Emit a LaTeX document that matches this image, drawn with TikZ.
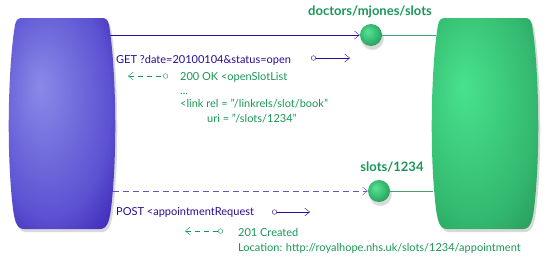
\documentclass[tikz,border=0pt]{standalone}
\usepackage{fontspec}
\setmainfont{Lato}
\usetikzlibrary{arrows.meta,shadows,positioning}

\definecolor{reqblue}{RGB}{40,12,145}
\definecolor{dashblue}{RGB}{100,80,200}
\definecolor{resgreen}{RGB}{24,150,86}
\definecolor{linkgreen}{RGB}{70,160,110}
\definecolor{clientlight}{RGB}{138,138,232}
\definecolor{clientmid}{RGB}{92,82,210}
\definecolor{clientdark}{RGB}{36,0,160}
\definecolor{serverlight}{RGB}{72,226,142}
\definecolor{servermid}{RGB}{52,186,112}
\definecolor{serverdark}{RGB}{30,132,76}
\definecolor{hublight}{RGB}{92,226,152}
\definecolor{hubmid}{RGB}{55,190,115}
\definecolor{hubdark}{RGB}{30,138,80}

\pgfdeclareradialshading{clientshade}{\pgfpoint{-10bp}{9bp}}{color(0bp)=(clientlight); color(27bp)=(clientmid); color(48bp)=(clientdark); color(60bp)=(clientdark)}
\pgfdeclareradialshading{servershade}{\pgfpoint{-10bp}{9bp}}{color(0bp)=(serverlight); color(27bp)=(servermid); color(48bp)=(serverdark); color(60bp)=(serverdark)}
\pgfdeclareradialshading{hubshade}{\pgfpoint{-8bp}{8bp}}{color(0bp)=(hublight); color(18bp)=(hubmid); color(36bp)=(hubdark); color(50bp)=(hubdark)}

% outline of client and server, centred on x=0
\newcommand{\barrel}{(-40,18) -- (40,18) .. controls (44,18) and (46,20) .. (47,25)
  .. controls (53,60) and (56,140) .. (50,200) .. controls (48,220) and (46,229) .. (38,229)
  -- (-38,229) .. controls (-46,229) and (-48,220) .. (-50,200)
  .. controls (-56,140) and (-53,60) .. (-47,25) .. controls (-46,20) and (-44,18) .. (-40,18) -- cycle}

\begin{document}
\begin{tikzpicture}[x=1pt,y=-1pt,
  request/.style={font=\fontsize{11}{13}\selectfont,text=reqblue,anchor=base west,inner sep=0pt},
  response/.style={font=\fontsize{11}{13}\selectfont,text=resgreen,anchor=base west,inner sep=0pt},
  resource/.style={font=\bfseries\fontsize{13}{15}\selectfont,text=resgreen,anchor=base,inner sep=0pt},
  hub/.style={circle,minimum size=22pt,inner sep=0pt,shading=hubshade,
    circular drop shadow={opacity=0.3,shadow xshift=1pt,shadow yshift=-3pt}},
  sendarrow/.style={reqblue,{Circle[open,length=5pt,width=5pt]}-{Straight Barb[length=5pt,width=8pt]}},
  replyarrow/.style={resgreen,dash pattern=on 5pt off 4pt,{Straight Barb[length=5pt,width=8pt]}-{Circle[open,length=5pt,width=5pt]}},
  ]

\useasboundingbox (0,0) rectangle (550,266);

% client and server
\shade[shift={(62,0)},shading=clientshade,drop shadow={opacity=0.3,shadow xshift=2pt,shadow yshift=-3pt}] \barrel;
\shade[shift={(485,0)},shading=servershade,drop shadow={opacity=0.3,shadow xshift=2pt,shadow yshift=-3pt}] \barrel;

% GET request
\coordinate (client get) at (110,35);
\coordinate (server get) at (436,35);
\node[hub] (slots) at (371,35) {};
\node[resource] (slots label) at (370,15) {doctors/mjones/slots};
\draw[reqblue,-{Straight Barb[length=5pt,width=8pt]}] (client get) -- (slots);
\draw[linkgreen] (slots) -- (server get);

\node[request] (get) at (116,63) {GET ?date=20100104\&status=open};
\coordinate (get out) at (311,58);
\coordinate (get end) at (350,58);
\draw[sendarrow] (get out) -- (get end);

\coordinate (ok end) at (128,76);
\coordinate (ok out) at (168,76);
\draw[replyarrow] (ok end) -- (ok out);
\node[response] (ok) at (180,80) {200 OK <openSlotList};
\node[response] (dots) at (180,94) {...};
\node[response] (link) at (180,107) {<link rel = "/linkrels/slot/book"};
\node[response] (uri) at (207,122) {uri = "/slots/1234"};

% POST request
\coordinate (client post) at (113,191);
\coordinate (server post) at (433,191);
\node[hub] (slot) at (379,191) {};
\node[resource] (slot label) at (392,171) {slots/1234};
\draw[dashblue,dash pattern=on 6pt off 4pt,-{Straight Barb[length=5pt,width=8pt]}] (client post) -- (slot);
\draw[linkgreen] (slot) -- (server post);

\node[request] (post) at (116,215) {POST <appointmentRequest};
\coordinate (post out) at (272,212);
\coordinate (post end) at (310,212);
\draw[sendarrow] (post out) -- (post end);

\coordinate (created end) at (185,231);
\coordinate (created out) at (223,231);
\draw[replyarrow] (created end) -- (created out);
\node[response] (created) at (238,236) {201 Created};
\node[response] (location) at (238,251) {Location: http://royalhope.nhs.uk/slots/1234/appointment};

\end{tikzpicture}
\end{document}
